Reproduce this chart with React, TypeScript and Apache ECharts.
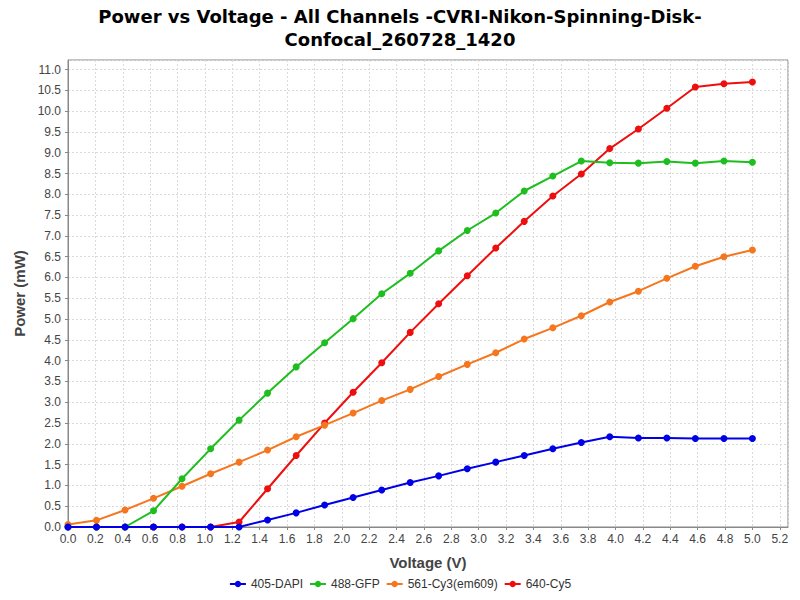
import React, { useEffect, useRef } from 'react'
import * as echarts from 'echarts'

// voltage steps (V) and measured power (mW) per channel
const voltages = [
  0, 0.208, 0.417, 0.625, 0.833, 1.042, 1.25, 1.458, 1.667, 1.875, 2.083, 2.292, 2.5,
  2.708, 2.917, 3.125, 3.333, 3.542, 3.75, 3.958, 4.167, 4.375, 4.583, 4.792, 5.0
]
const dapi = [
  0, 0, 0, 0, 0, 0, 0, 0.17, 0.34, 0.53, 0.71, 0.89, 1.07, 1.23, 1.4, 1.56, 1.72, 1.88,
  2.03, 2.17, 2.14, 2.14, 2.13, 2.13, 2.13
]
const gfp = [
  0, 0, 0, 0.39, 1.16, 1.88, 2.57, 3.22, 3.85, 4.43, 5.01, 5.61, 6.1, 6.64, 7.13, 7.55,
  8.08, 8.44, 8.8, 8.76, 8.75, 8.79, 8.75, 8.8, 8.77
]
const cy3 = [
  0.06, 0.16, 0.41, 0.69, 0.98, 1.28, 1.56, 1.85, 2.17, 2.45, 2.74, 3.04, 3.31, 3.62,
  3.91, 4.19, 4.52, 4.79, 5.08, 5.41, 5.67, 5.98, 6.27, 6.5, 6.66
]
const cy5 = [
  0, 0, 0, 0, 0, 0, 0.12, 0.92, 1.72, 2.5, 3.24, 3.95, 4.68, 5.37, 6.04, 6.71, 7.35,
  7.96, 8.49, 9.1, 9.57, 10.07, 10.58, 10.66, 10.7
]
const channelNames = ['405-DAPI', '488-GFP', '561-Cy3(em609)', '640-Cy5']
const channelColors = ['#0000e6', '#1ebe1e', '#f5761e', '#ee0e0e']

const FONT = 'Liberation Sans'

const App: React.FC = () => {
  const chartRef = useRef<HTMLDivElement>(null)

  useEffect(() => {
    document.body.style.margin = '0'
    if (!chartRef.current) return
    const chart = echarts.init(chartRef.current, undefined, { renderer: 'svg' })

    const values = [dapi, gfp, cy3, cy5]
    const series = values.map((vals, i) => ({
      name: channelNames[i],
      type: 'line' as const,
      data: vals.map((v, j) => [voltages[j], v]),
      symbol: 'circle',
      symbolSize: 7,
      z: 10 - i,
      lineStyle: { width: 2, color: channelColors[i] },
      itemStyle: { color: channelColors[i] }
    }))

    const option: echarts.EChartsOption = {
      animation: false,
      backgroundColor: '#ffffff',
      title: {
        text: 'Power vs Voltage - All Channels -CVRI-Nikon-Spinning-Disk-\nConfocal_260728_1420',
        left: 'center',
        top: 0,
        textStyle: {
          fontFamily: 'DejaVu Sans',
          fontWeight: 'bold',
          fontSize: 18,
          lineHeight: 23,
          color: '#000'
        }
      },
      legend: {
        data: channelNames,
        bottom: 5,
        left: 'center',
        itemWidth: 16,
        itemHeight: 8,
        itemGap: 6,
        textStyle: { fontFamily: FONT, fontSize: 12, color: '#333' }
      },
      grid: {
        left: 68,
        right: 12,
        top: 60,
        bottom: 73,
        show: true,
        borderColor: '#888',
        borderWidth: 1,
        backgroundColor: '#fff'
      },
      xAxis: {
        type: 'value',
        min: 0,
        max: 5.26,
        interval: 0.2,
        name: 'Voltage (V)',
        nameLocation: 'middle',
        nameGap: 28,
        nameTextStyle: { fontFamily: FONT, fontSize: 15, fontWeight: 'bold', color: '#444' },
        axisLine: { show: true, lineStyle: { color: '#888' } },
        axisTick: { show: true, length: 3, lineStyle: { color: '#888' } },
        axisLabel: {
          fontFamily: FONT,
          fontSize: 12,
          color: '#444',
          margin: 6,
          showMaxLabel: false,
          formatter: (v: number) => v.toFixed(1)
        },
        splitLine: { show: true, lineStyle: { color: '#dadada', type: [2, 2] } }
      },
      yAxis: {
        type: 'value',
        min: 0,
        max: 11.23,
        interval: 0.5,
        name: 'Power (mW)',
        nameLocation: 'middle',
        nameGap: 40,
        nameRotate: 90,
        nameTextStyle: { fontFamily: FONT, fontSize: 15, fontWeight: 'bold', color: '#444' },
        axisLine: { show: true, lineStyle: { color: '#888' } },
        axisTick: { show: true, length: 3, lineStyle: { color: '#888' } },
        axisLabel: {
          fontFamily: FONT,
          fontSize: 12,
          color: '#444',
          margin: 7,
          showMaxLabel: false,
          formatter: (v: number) => v.toFixed(1)
        },
        splitLine: { show: true, lineStyle: { color: '#dadada', type: [2, 2] } }
      },
      series
    }

    chart.setOption(option)
    return () => {
      chart.dispose()
    }
  }, [])

  return <div ref={chartRef} style={{ width: 800, height: 600 }} />
}

export default App
